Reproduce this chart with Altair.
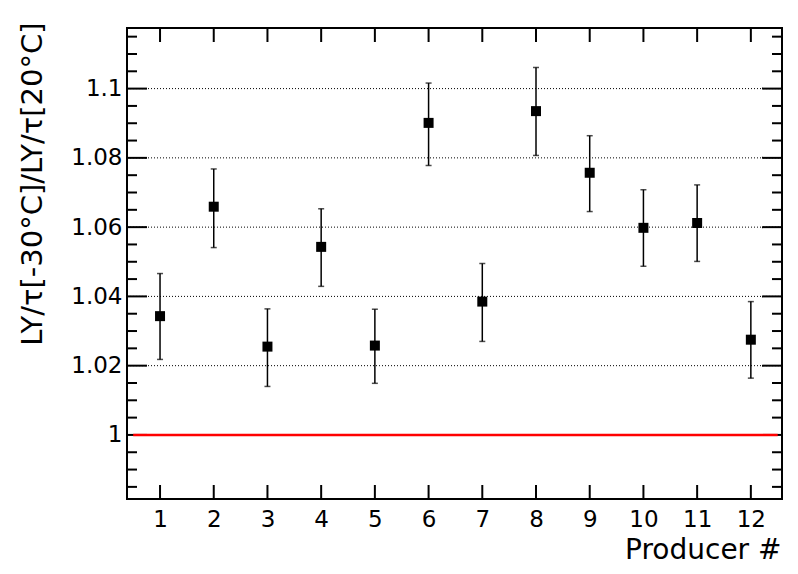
import altair as alt
import pandas as pd

# ---- data ----
producers = [1, 2, 3, 4, 5, 6, 7, 8, 9, 10, 11, 12]
ratio = [1.0343, 1.0659, 1.0255, 1.0543, 1.0258, 1.0901, 1.0385, 1.0935, 1.0757, 1.0598, 1.0612, 1.0275]
err_hi = [1.0466, 1.0768, 1.0364, 1.0653, 1.0363, 1.1016, 1.0495, 1.1061, 1.0864, 1.0708, 1.0722, 1.0385]
err_lo = [1.0218, 1.0541, 1.0140, 1.0429, 1.0149, 1.0778, 1.0270, 1.0807, 1.0645, 1.0487, 1.0501, 1.0164]

y_major = [1.0, 1.02, 1.04, 1.06, 1.08, 1.1]
y_minor = [0.985, 0.99, 0.995, 1.005, 1.01, 1.015, 1.025, 1.03, 1.035, 1.045, 1.05, 1.055,
           1.065, 1.07, 1.075, 1.085, 1.09, 1.095, 1.105, 1.11, 1.115]
x_ticks = producers
ref_level = [1.0]
ref_x = [0.5, 12.5]

x_domain = [0.385, 12.58]
y_domain = [0.9815, 1.1175]

W, H = 655, 471
FONT = "DejaVu Sans"

pts = pd.DataFrame({"x": producers, "y": ratio, "lo": err_lo, "hi": err_hi})
ymaj = pd.DataFrame({"y": y_major})
ymin = pd.DataFrame({"y": y_minor})
xt = pd.DataFrame({"x": x_ticks})
refdf = pd.DataFrame({"y": ref_level, "x": [ref_x[0]], "x2": [ref_x[1]]})

xscale = alt.Scale(domain=x_domain, nice=False, zero=False)
yscale = alt.Scale(domain=y_domain, nice=False, zero=False)

xaxis = alt.Axis(
    title="Producer #", values=x_ticks, ticks=False, tickSize=0, domain=False, grid=False,
    labelFont=FONT, labelFontSize=23, labelColor="black", labelPadding=9,
    titleFont=FONT, titleFontSize=28, titleFontWeight="normal", titleColor="black",
    titleAlign="right", titleAnchor="end", titleX=654, titleY=59, titleBaseline="alphabetic",
)
yaxis = alt.Axis(
    title="LY/τ[-30°C]/LY/τ[20°C]", values=y_major, format="~g", ticks=False, tickSize=0,
    domain=False, grid=False,
    labelFont=FONT, labelFontSize=23, labelColor="black", labelPadding=5,
    titleFont=FONT, titleFontSize=29, titleFontWeight="normal", titleColor="black",
    titleAngle=270, titleAlign="right", titleAnchor="end", titleX=-80, titleY=-6,
    titleBaseline="bottom",
)


def X(field):
    return alt.X(field, type="quantitative", scale=xscale, axis=xaxis)


def Y(field):
    return alt.Y(field, type="quantitative", scale=yscale, axis=yaxis)


grid = alt.Chart(ymaj.iloc[1:]).mark_rule(color="black", strokeWidth=1, strokeDash=[1, 2]).encode(
    y=Y("y"), x=alt.value(0), x2=alt.value(W))

ref = alt.Chart(refdf).mark_rule(color="#ff0000", strokeWidth=2.5).encode(
    y=Y("y"), x=X("x"), x2="x2")

ymaj_l = alt.Chart(ymaj).mark_rule(color="black", strokeWidth=2).encode(
    y=Y("y"), x=alt.value(0), x2=alt.value(20))
ymaj_r = alt.Chart(ymaj).mark_rule(color="black", strokeWidth=2).encode(
    y=Y("y"), x=alt.value(W - 20), x2=alt.value(W))
ymin_l = alt.Chart(ymin).mark_rule(color="black", strokeWidth=2).encode(
    y=Y("y"), x=alt.value(0), x2=alt.value(10))
ymin_r = alt.Chart(ymin).mark_rule(color="black", strokeWidth=2).encode(
    y=Y("y"), x=alt.value(W - 10), x2=alt.value(W))
xt_b = alt.Chart(xt).mark_rule(color="black", strokeWidth=2).encode(
    x=X("x"), y=alt.value(H - 14), y2=alt.value(H))
xt_t = alt.Chart(xt).mark_rule(color="black", strokeWidth=2).encode(
    x=X("x"), y=alt.value(0), y2=alt.value(14))

bars = alt.Chart(pts).mark_rule(color="black", strokeWidth=1.5).encode(
    x=X("x"), y=Y("lo"), y2="hi")
cap_hi = alt.Chart(pts).mark_tick(color="black", orient="horizontal", size=6, thickness=1.5).encode(
    x=X("x"), y=Y("hi"))
cap_lo = alt.Chart(pts).mark_tick(color="black", orient="horizontal", size=6, thickness=1.5).encode(
    x=X("x"), y=Y("lo"))
squares = alt.Chart(pts).mark_square(color="black", size=100, opacity=1, filled=True).encode(
    x=X("x"), y=Y("y"))

chart = alt.layer(
    grid, ymaj_l, ymaj_r, ymin_l, ymin_r, xt_b, xt_t, ref, bars, cap_hi, cap_lo, squares
).properties(
    width=W, height=H,
    background="white",
    autosize=alt.AutoSizeParams(type="none"),
    padding={"left": 119, "top": 20, "right": 8, "bottom": 72},
).configure_view(
    stroke="black", strokeWidth=2
)

chart.save("out.html", embed_options={"renderer": "svg", "actions": False})
